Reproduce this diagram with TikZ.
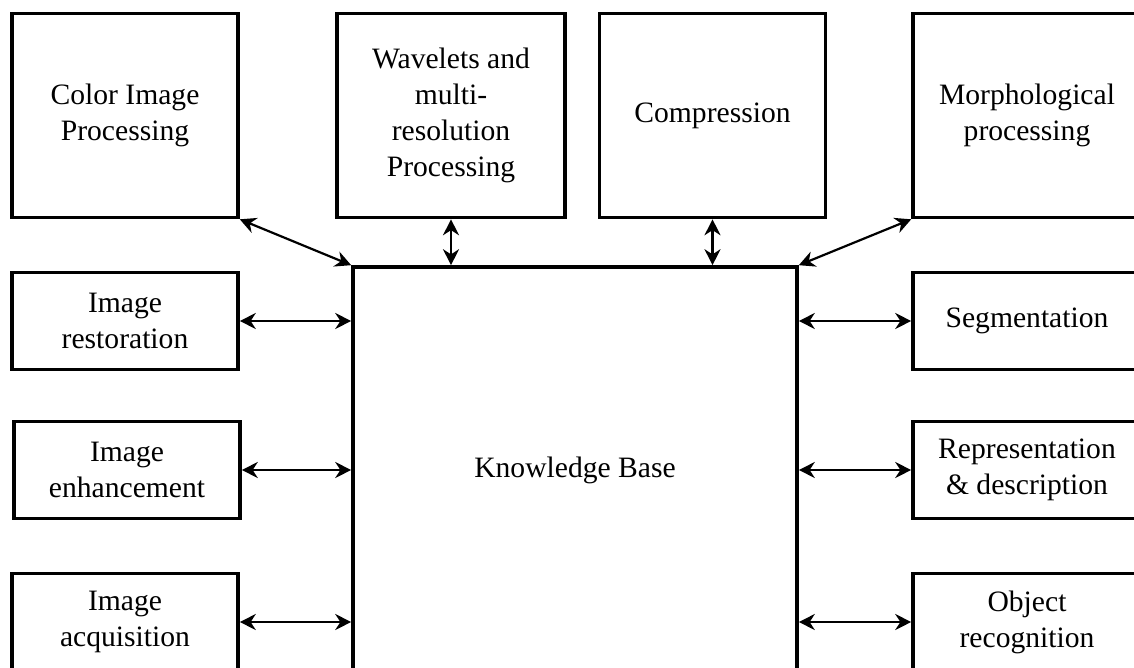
\documentclass[tikz,border=0pt]{standalone}
\usepackage{fontspec}
\setmainfont{Liberation Serif}
\usetikzlibrary{arrows.meta}

\begin{document}
\begin{tikzpicture}[x=0.5pt,y=-0.5pt,
  every node/.style={font=\fontsize{14.8}{18}\selectfont,align=center},
  blk/.style={draw,line width=1.8pt,minimum width=113pt,inner sep=0pt},
  tallblk/.style={blk,minimum height=102pt},
  lowblk/.style={blk,minimum height=48.5pt},
  link/.style={{Stealth[length=8pt,width=8pt,inset=2.6pt]}-{Stealth[length=8pt,width=8pt,inset=2.6pt]},line width=1.1pt}]
  \clip (0,0) rectangle (1134,668);
  \fill[white] (0,0) rectangle (1134,668);
  % top row
  \node[tallblk] (color) at (125,115.5) {Color Image\\Processing};
  \node[tallblk,minimum width=114pt] (wave) at (451,115.5) {Wavelets and\\multi-\\resolution\\Processing};
  \node[tallblk] (comp) at (712.5,115.5) {Compression};
  \node[tallblk,minimum width=114pt] (morph) at (1027,115.5) {Morphological\\processing};
  % centre
  \node[blk,minimum width=222pt,minimum height=203pt] (kb) at (575,470) {Knowledge Base};
  % left column
  \node[lowblk] (rest) at (125,321) {Image\\restoration};
  \node[lowblk] (enh) at (127,470) {Image\\enhancement};
  \node[lowblk] (acq) at (125,622) {Image\\acquisition};
  % right column
  \node[lowblk,minimum width=114pt] (seg) at (1027,321) {Segmentation};
  \node[lowblk,minimum width=114pt] (rep) at (1027,470) {Representation\\\& description};
  \node[lowblk,minimum width=114pt] (obj) at (1027,622) {Object\\recognition};
  % links
  \draw[link] (color.south east) -- (kb.north west);
  \draw[link] (morph.south west) -- (kb.north east);
  \draw[link] (wave.south) -- (wave.south |- kb.north);
  \draw[link] (comp.south) -- (comp.south |- kb.north);
  \draw[link] (rest.east) -- (rest.east -| kb.west);
  \draw[link] (enh.east) -- (enh.east -| kb.west);
  \draw[link] (acq.east) -- (acq.east -| kb.west);
  \draw[link] (seg.west) -- (seg.west -| kb.east);
  \draw[link] (rep.west) -- (rep.west -| kb.east);
  \draw[link] (obj.west) -- (obj.west -| kb.east);
\end{tikzpicture}
\end{document}
